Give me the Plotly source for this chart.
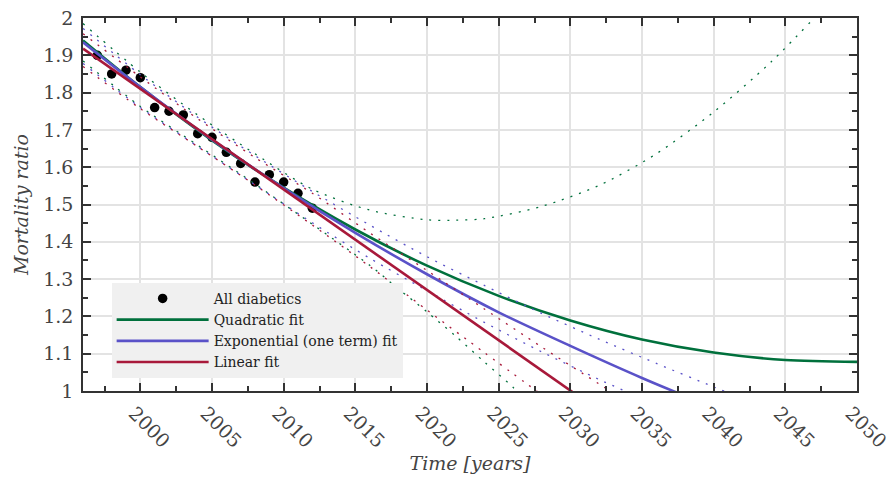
import plotly.graph_objects as go

# ---- data ----
years_data = [1997, 1998, 1999, 2000, 2001, 2002, 2003, 2004, 2005, 2006, 2007, 2008, 2009, 2010, 2011, 2012]
ratio_data = [1.90, 1.85, 1.86, 1.84, 1.76, 1.75, 1.74, 1.69, 1.68, 1.64, 1.61, 1.56, 1.58, 1.56, 1.53, 1.49]

quad_years = [1996, 2000, 2005, 2010, 2015, 2020, 2025, 2030, 2035, 2040, 2045, 2050]
quad_fit = [1.940, 1.815, 1.672, 1.545, 1.433, 1.336, 1.255, 1.189, 1.138, 1.103, 1.083, 1.078]
quad_up_years = [1996, 2000, 2004, 2008, 2012, 2016, 2020, 2022, 2024, 2028, 2032, 2036, 2040, 2044, 2048]
quad_up = [1.985, 1.855, 1.740, 1.636, 1.541, 1.485, 1.459, 1.458, 1.462, 1.495, 1.551, 1.636, 1.748, 1.882, 2.040]
quad_lo_years = [1996, 2000, 2004, 2008, 2012, 2016, 2018, 2020, 2022, 2024, 2026, 2028]
quad_lo = [1.885, 1.763, 1.659, 1.555, 1.447, 1.337, 1.274, 1.212, 1.147, 1.078, 1.010, 0.930]

exp_years = [1996, 2000, 2005, 2010, 2015, 2020, 2025, 2030, 2035, 2040]
exp_fit = [1.935, 1.815, 1.674, 1.544, 1.424, 1.313, 1.211, 1.121, 1.035, 0.955]
exp_up_years = [1996, 2000, 2004, 2008, 2012, 2016, 2020, 2024, 2028, 2032, 2036, 2040, 2042]
exp_up = [1.972, 1.848, 1.734, 1.631, 1.535, 1.445, 1.360, 1.283, 1.208, 1.139, 1.074, 1.011, 0.980]
exp_lo_years = [1996, 2000, 2004, 2008, 2012, 2016, 2020, 2024, 2028, 2032, 2034]
exp_lo = [1.878, 1.760, 1.656, 1.553, 1.451, 1.356, 1.269, 1.184, 1.105, 1.031, 0.997]

lin_years = [1996, 2050]
lin_fit = [1.918, 0.462]
lin_up_years = [1996, 2000, 2004, 2008, 2012, 2016, 2020, 2024, 2028, 2032, 2034]
lin_up = [1.958, 1.842, 1.730, 1.626, 1.530, 1.424, 1.323, 1.220, 1.118, 1.019, 0.970]
lin_lo_years = [1996, 2000, 2004, 2008, 2012, 2016, 2020, 2024, 2028]
lin_lo = [1.870, 1.757, 1.655, 1.552, 1.445, 1.334, 1.217, 1.103, 0.990]

x_tick_vals = [2000, 2005, 2010, 2015, 2020, 2025, 2030, 2035, 2040, 2045, 2050]
x_tick_text = ["2000", "2005", "2010", "2015", "2020", "2025", "2030", "2035", "2040", "2045", "2050"]
y_tick_vals = [1.0, 1.1, 1.2, 1.3, 1.4, 1.5, 1.6, 1.7, 1.8, 1.9, 2.0]
y_tick_text = ["1", "1.1", "1.2", "1.3", "1.4", "1.5", "1.6", "1.7", "1.8", "1.9", "2"]

GREEN = "#00703c"
BLUE = "#5a52c8"
RED = "#a8193a"
DOT = "2px,7px"
FONT = "DejaVu Serif"

fig = go.Figure()
fig.add_trace(go.Scatter(x=years_data, y=ratio_data, mode="markers", name="All diabetics",
                         marker=dict(color="black", size=9.5)))


def add_fit(xf, yf, xu, yu, xl, yl, color, name, spline=True):
    shape = "spline" if spline else "linear"
    fig.add_trace(go.Scatter(x=xu, y=yu, mode="lines", showlegend=False, hoverinfo="skip",
                             line=dict(color=color, width=1.3, dash=DOT, shape="spline", smoothing=0.8)))
    fig.add_trace(go.Scatter(x=xl, y=yl, mode="lines", showlegend=False, hoverinfo="skip",
                             line=dict(color=color, width=1.3, dash=DOT, shape="spline", smoothing=0.8)))
    fig.add_trace(go.Scatter(x=xf, y=yf, mode="lines", name=name,
                             line=dict(color=color, width=2.6, shape=shape, smoothing=0.8)))


add_fit(quad_years, quad_fit, quad_up_years, quad_up, quad_lo_years, quad_lo, GREEN, "Quadratic fit")
add_fit(exp_years, exp_fit, exp_up_years, exp_up, exp_lo_years, exp_lo, BLUE, "Exponential (one term) fit")
add_fit(lin_years, lin_fit, lin_up_years, lin_up, lin_lo_years, lin_lo, RED, "Linear fit", spline=False)

axis_common = dict(
    showline=True, linecolor="#333333", linewidth=1.5, mirror="ticks",
    ticks="inside", ticklen=8, tickwidth=1.5, tickcolor="#333333",
    showgrid=True, gridcolor="#e3e3e3", gridwidth=1.5, zeroline=False,
    tickfont=dict(family=FONT, size=19, color="#444444"),
)

fig.update_xaxes(range=[1996, 2050], tickvals=x_tick_vals, ticktext=x_tick_text, tickangle=45,
                 ticklabeloverflow="allow", ticklabelshift=-6, ticklabelstandoff=2,
                 minor=dict(ticks="inside", ticklen=5, dtick=2.5, tick0=2000, tickcolor="#333333", showgrid=False),
                 title=dict(text="<i>Time [years]</i>", font=dict(family=FONT, size=19, color="#444444"), standoff=6),
                 **axis_common)
fig.update_yaxes(range=[1, 2], tickvals=y_tick_vals, ticktext=y_tick_text,
                 minor=dict(ticks="inside", ticklen=5, dtick=0.05, tick0=1, tickcolor="#333333", showgrid=False),
                 title=dict(text="<i>Mortality ratio</i>", font=dict(family=FONT, size=19, color="#444444"), standoff=10),
                 ticklabelstandoff=4,
                 **axis_common)

fig.update_layout(
    width=892, height=484,
    margin=dict(l=83, r=35, t=18, b=93, autoexpand=False),
    paper_bgcolor="white", plot_bgcolor="white",
    showlegend=True,
    legend=dict(x=0.037, y=0.29, xanchor="left", yanchor="top", bgcolor="#f0f0f0",
                font=dict(family=FONT, size=14, color="#222222"), itemwidth=92,
                tracegroupgap=0),
)

fig.write_html("out.html")
